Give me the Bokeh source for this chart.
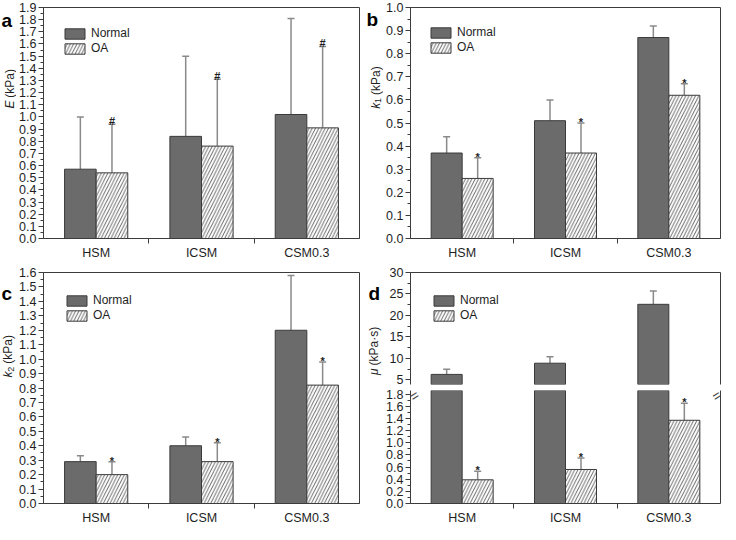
import math
import numpy as np
from bokeh.plotting import figure
from bokeh.models import (Range1d, FixedTicker, SingleIntervalTicker, NumeralTickFormatter,
                          LinearAxis, ColumnDataSource, Whisker, TeeHead, Legend, LegendItem)
from bokeh.layouts import row, column
from bokeh.core.properties import value
from bokeh.embed import file_html
from bokeh.resources import INLINE

# ---------------- data ----------------
categories = ["HSM", "ICSM", "CSM0.3"]
series = ["Normal", "OA"]

E_normal = [0.57, 0.84, 1.02]
E_normal_sd = [0.43, 0.66, 0.79]
E_oa = [0.54, 0.76, 0.91]
E_oa_sd = [0.40, 0.55, 0.67]
E_marks = ["#", "#", "#"]

k1_normal = [0.37, 0.51, 0.87]
k1_normal_sd = [0.07, 0.09, 0.05]
k1_oa = [0.26, 0.37, 0.62]
k1_oa_sd = [0.09, 0.13, 0.05]
k1_marks = ["*", "*", "*"]

k2_normal = [0.29, 0.40, 1.20]
k2_normal_sd = [0.04, 0.06, 0.38]
k2_oa = [0.20, 0.29, 0.82]
k2_oa_sd = [0.09, 0.13, 0.16]
k2_marks = ["*", "*", "*"]

mu_normal = [6.3, 8.9, 22.6]
mu_normal_sd = [1.2, 1.5, 3.1]
mu_oa = [0.39, 0.56, 1.37]
mu_oa_sd = [0.14, 0.19, 0.28]
mu_marks = ["*", "*", "*"]

# axis ranges / tick steps
E_range, E_step = (0.0, 1.9), 0.1
k1_range, k1_step = (0.0, 1.0), 0.1
k2_range, k2_step = (0.0, 1.6), 0.1
mu_upper_range, mu_upper_step = (3.95, 30.0), 5
mu_lower_range, mu_lower_step = (0.0, 1.86), 0.2

panel_letters = ["a", "b", "c", "d"]

# ---------------- style ----------------
FONT = "Liberation Sans"
AX = "#3c3c3c"
TXT = "#1e1e1e"
BAR = "#6b6b6b"
BAR_LINE = "#3a3a3a"
ERR = "#8a8a8a"
HATCH = "#3a3a3a"
BAR_W = 0.3
TICK_FS = "12.5px"
NCAT = len(categories)


def make_source(normal, normal_sd, oa, oa_sd, marks):
    pos = np.arange(NCAT) + 0.5
    return ColumnDataSource(dict(
        cat=categories, pos=pos,
        x_n=pos - BAR_W / 2, x_o=pos + BAR_W / 2,
        normal=normal, normal_top=np.add(normal, normal_sd),
        oa=oa, oa_top=np.add(oa, oa_sd), mark=marks))


def base_fig(w, h, yr, mb, outline=True):
    p = figure(width=w, height=h, x_range=Range1d(0, NCAT), y_range=Range1d(yr[0], yr[1] + 1e-9),
               output_backend="svg", toolbar_location=None,
               x_axis_location=None, y_axis_location=None,
               min_border_left=mb[0], min_border_right=mb[1],
               min_border_top=mb[2], min_border_bottom=mb[3])
    for g in p.grid:
        g.visible = False
    p.background_fill_color = "white"
    p.border_fill_color = "white"
    if outline:
        p.outline_line_color = AX
        p.outline_line_width = 1
        p.outline_line_alpha = 1
    else:
        p.outline_line_color = None
    return p


def label_fig(w, h):
    p = figure(width=w, height=h, x_range=Range1d(0, w), y_range=Range1d(0, h),
               output_backend="svg", toolbar_location=None,
               x_axis_location=None, y_axis_location=None,
               min_border_left=0, min_border_right=0, min_border_top=0, min_border_bottom=0)
    for g in p.grid:
        g.visible = False
    p.outline_line_color = None
    p.background_fill_color = "white"
    p.border_fill_color = "white"
    return p


def style_axis(ax):
    ax.axis_line_color = AX
    ax.axis_line_width = 1
    ax.major_tick_line_color = AX
    ax.minor_tick_line_color = AX
    ax.major_tick_in = 0
    ax.minor_tick_in = 0
    ax.major_tick_out = 5
    ax.minor_tick_out = 3
    ax.major_label_text_font = FONT
    ax.major_label_text_font_size = TICK_FS
    ax.major_label_text_color = TXT
    ax.major_label_standoff = 2


def add_y_axis(p, step, fmt):
    ax = LinearAxis(ticker=SingleIntervalTicker(interval=step, num_minor_ticks=2),
                    formatter=NumeralTickFormatter(format=fmt))
    style_axis(ax)
    p.add_layout(ax, "left")


def add_x_axis(p):
    pos = list(np.arange(NCAT) + 0.5)
    ax = LinearAxis(ticker=FixedTicker(ticks=pos, minor_ticks=[float(i) for i in range(1, NCAT)]),
                    major_label_overrides={float(x): c for x, c in zip(pos, categories)})
    style_axis(ax)
    ax.major_tick_line_color = None
    ax.major_tick_out = 0
    ax.minor_tick_out = 5
    ax.major_label_standoff = 2
    ax.major_label_text_font_size = "12.5px"
    p.add_layout(ax, "below")


def add_line_axis(p, side):
    ax = LinearAxis(ticker=FixedTicker(ticks=[]))
    ax.axis_line_color = AX
    ax.major_tick_line_color = None
    ax.minor_tick_line_color = None
    ax.major_label_text_font_size = "0px"
    p.add_layout(ax, side)


def draw_bars(p, src, oa_field="oa"):
    rn = p.vbar(x="x_n", top="normal", width=BAR_W, source=src,
                fill_color=BAR, line_color=BAR_LINE, line_width=1)
    ro = p.vbar(x="x_o", top=oa_field, width=BAR_W, source=src,
                fill_color="white", line_color=BAR_LINE, line_width=1,
                hatch_pattern="/", hatch_color=HATCH, hatch_scale=6.5, hatch_weight=0.8)
    return rn, ro


def add_whisker(p, src, base, lower, upper):
    p.add_layout(Whisker(source=src, base=base, lower=lower, upper=upper, dimension="height",
                         line_color=ERR, line_width=1.5,
                         upper_head=TeeHead(size=7, line_color=ERR, line_width=1.5),
                         lower_head=None))


def add_marks(p, src, size="11px", yoff=-2):
    p.text(x="x_o", y="oa_top", text="mark", source=src,
           text_font=value(FONT), text_font_size=size, text_font_style="bold",
           text_align="center", text_baseline="alphabetic", y_offset=yoff, text_color=TXT)


def add_legend(p, rn, ro, margin):
    leg = Legend(items=[LegendItem(label=series[0], renderers=[rn], index=0),
                        LegendItem(label=series[1], renderers=[ro], index=0)],
                 location="top_left", margin=margin, padding=0, spacing=1,
                 glyph_width=25, glyph_height=13, label_height=13, label_standoff=4,
                 border_line_color=None, background_fill_alpha=0,
                 label_text_font=FONT, label_text_font_size="12px", label_text_color=TXT)
    p.add_layout(leg)


def put_letter(lf, h, letter, x_px, baseline_px):
    lf.text(x=[x_px], y=[h - baseline_px], text=[letter],
            text_font=value(FONT), text_font_size="19px", text_font_style="bold",
            text_color="#000000", text_align="left", text_baseline="alphabetic")


def put_ylabel(lf, h, var, sub, rest, cx, anchor_px, fs=12):
    """Vertical axis title read bottom-to-top: italic variable, optional subscript, unit."""
    ya = h - anchor_px
    sub_w = 0.0
    if sub:
        sub_w = 0.556 * 9 + 0.5
        lf.text(x=[cx + 2.5], y=[ya], text=[sub], angle=math.pi / 2,
                text_font=value(FONT), text_font_size="9px", text_color=TXT,
                text_align="right", text_baseline="middle")
    lf.text(x=[cx], y=[ya - sub_w], text=[var], angle=math.pi / 2,
            text_font=value(FONT), text_font_size=f"{fs}px", text_font_style="italic",
            text_color=TXT, text_align="right", text_baseline="middle")
    lf.text(x=[cx], y=[ya + 0.278 * fs], text=[rest], angle=math.pi / 2,
            text_font=value(FONT), text_font_size=f"{fs}px", text_color=TXT,
            text_align="left", text_baseline="middle")


# ---------------- geometry ----------------
LAB_WL, LAB_WR = 16, 17          # strips holding panel letter + axis title
LW, RW = 366, 360                # column widths
L_MB = (25, 7)                   # plot borders (left, right) after the strip
R_MB = (25, 6)
TOP_H, TOP_MB = 263, (7, 25)
BOT_H, BOT_MB = 265, (9, 25)
DU_MB = (9, 2)
DL_MB = (4, 25)
D_FH = (BOT_H - sum(DU_MB) - sum(DL_MB)) // 2
DU_H = D_FH + sum(DU_MB)
DL_H = BOT_H - DU_H
R_FW = RW - LAB_WR - sum(R_MB)

# ---------------- panel a ----------------
src_a = make_source(E_normal, E_normal_sd, E_oa, E_oa_sd, E_marks)
pa = base_fig(LW - LAB_WL, TOP_H, E_range, (L_MB[0], L_MB[1], TOP_MB[0], TOP_MB[1]))
add_y_axis(pa, E_step, "0.0")
add_x_axis(pa)
rn, ro = draw_bars(pa, src_a)
add_whisker(pa, src_a, "x_n", "normal", "normal_top")
add_whisker(pa, src_a, "x_o", "oa", "oa_top")
add_marks(pa, src_a, size="11px", yoff=-3)
add_legend(pa, rn, ro, 19)
la = label_fig(LAB_WL, TOP_H)
put_letter(la, TOP_H, panel_letters[0], 1, 15)
put_ylabel(la, TOP_H, "E", None, "(kPa)", 9, 106)

# ---------------- panel b ----------------
src_b = make_source(k1_normal, k1_normal_sd, k1_oa, k1_oa_sd, k1_marks)
pb = base_fig(RW - LAB_WR, TOP_H, k1_range, (R_MB[0], R_MB[1], TOP_MB[0], TOP_MB[1]))
add_y_axis(pb, k1_step, "0.0")
add_x_axis(pb)
rn, ro = draw_bars(pb, src_b)
add_whisker(pb, src_b, "x_n", "normal", "normal_top")
add_whisker(pb, src_b, "x_o", "oa", "oa_top")
add_marks(pb, src_b, size="11px", yoff=-1)
add_legend(pb, rn, ro, 18)
lb = label_fig(LAB_WR, TOP_H)
put_letter(lb, TOP_H, panel_letters[1], 0, 14)
put_ylabel(lb, TOP_H, "k", "1", "(kPa)", 9, 103)

# ---------------- panel c ----------------
src_c = make_source(k2_normal, k2_normal_sd, k2_oa, k2_oa_sd, k2_marks)
pc = base_fig(LW - LAB_WL, BOT_H, k2_range, (L_MB[0], L_MB[1], BOT_MB[0], BOT_MB[1]))
add_y_axis(pc, k2_step, "0.0")
add_x_axis(pc)
rn, ro = draw_bars(pc, src_c)
add_whisker(pc, src_c, "x_n", "normal", "normal_top")
add_whisker(pc, src_c, "x_o", "oa", "oa_top")
add_marks(pc, src_c, size="11px", yoff=-1)
add_legend(pc, rn, ro, 21)
lc = label_fig(LAB_WL, BOT_H)
put_letter(lc, BOT_H, panel_letters[2], 1, 24)
put_ylabel(lc, BOT_H, "k", "2", "(kPa)", 7.5, 108)

# ---------------- panel d (broken axis: two stacked segments) ----------------
src_d = make_source(mu_normal, mu_normal_sd, mu_oa, mu_oa_sd, mu_marks)
# OA values lying below the upper segment are not drawn there (kept only for the legend swatch)
src_d.data["oa_upper"] = np.where(np.array(mu_oa) >= mu_upper_range[0], mu_oa, np.nan)

pdu = base_fig(RW - LAB_WR, DU_H, mu_upper_range, (R_MB[0], R_MB[1], DU_MB[0], DU_MB[1]), outline=False)
add_y_axis(pdu, mu_upper_step, "0")
add_line_axis(pdu, "right")
add_line_axis(pdu, "above")
rn, ro = draw_bars(pdu, src_d, oa_field="oa_upper")
add_whisker(pdu, src_d, "x_n", "normal", "normal_top")
add_legend(pdu, rn, ro, 21)

pdl = base_fig(RW - LAB_WR, DL_H, mu_lower_range, (R_MB[0], R_MB[1], DL_MB[0], DL_MB[1]), outline=False)
add_y_axis(pdl, mu_lower_step, "0.0")
add_x_axis(pdl)
add_line_axis(pdl, "right")
draw_bars(pdl, src_d)
add_whisker(pdl, src_d, "x_o", "oa", "oa_top")
add_marks(pdl, src_d, size="11px", yoff=-1)

# axis-break symbols just inside the lower segment, at both vertical axes
brk_dx = 4 * NCAT / R_FW
brk_dy = 5 * (mu_lower_range[1] - mu_lower_range[0]) / D_FH
pdl.text(x=[brk_dx, NCAT - brk_dx], y=[mu_lower_range[1] - brk_dy] * 2, text=["=", "="],
         angle=0.55, text_font=value(FONT), text_font_size="14px", text_color=AX,
         text_align="center", text_baseline="middle")

ld = label_fig(LAB_WR, BOT_H)
put_letter(ld, BOT_H, panel_letters[3], 2, 24)
put_ylabel(ld, BOT_H, "\u03bc", None, "(kPa\u00b7s)", 7, 110)

layout = column(row(la, pa, lb, pb), row(lc, pc, ld, column(pdu, pdl)))

open("out.html", "w").write(file_html(layout, INLINE))
